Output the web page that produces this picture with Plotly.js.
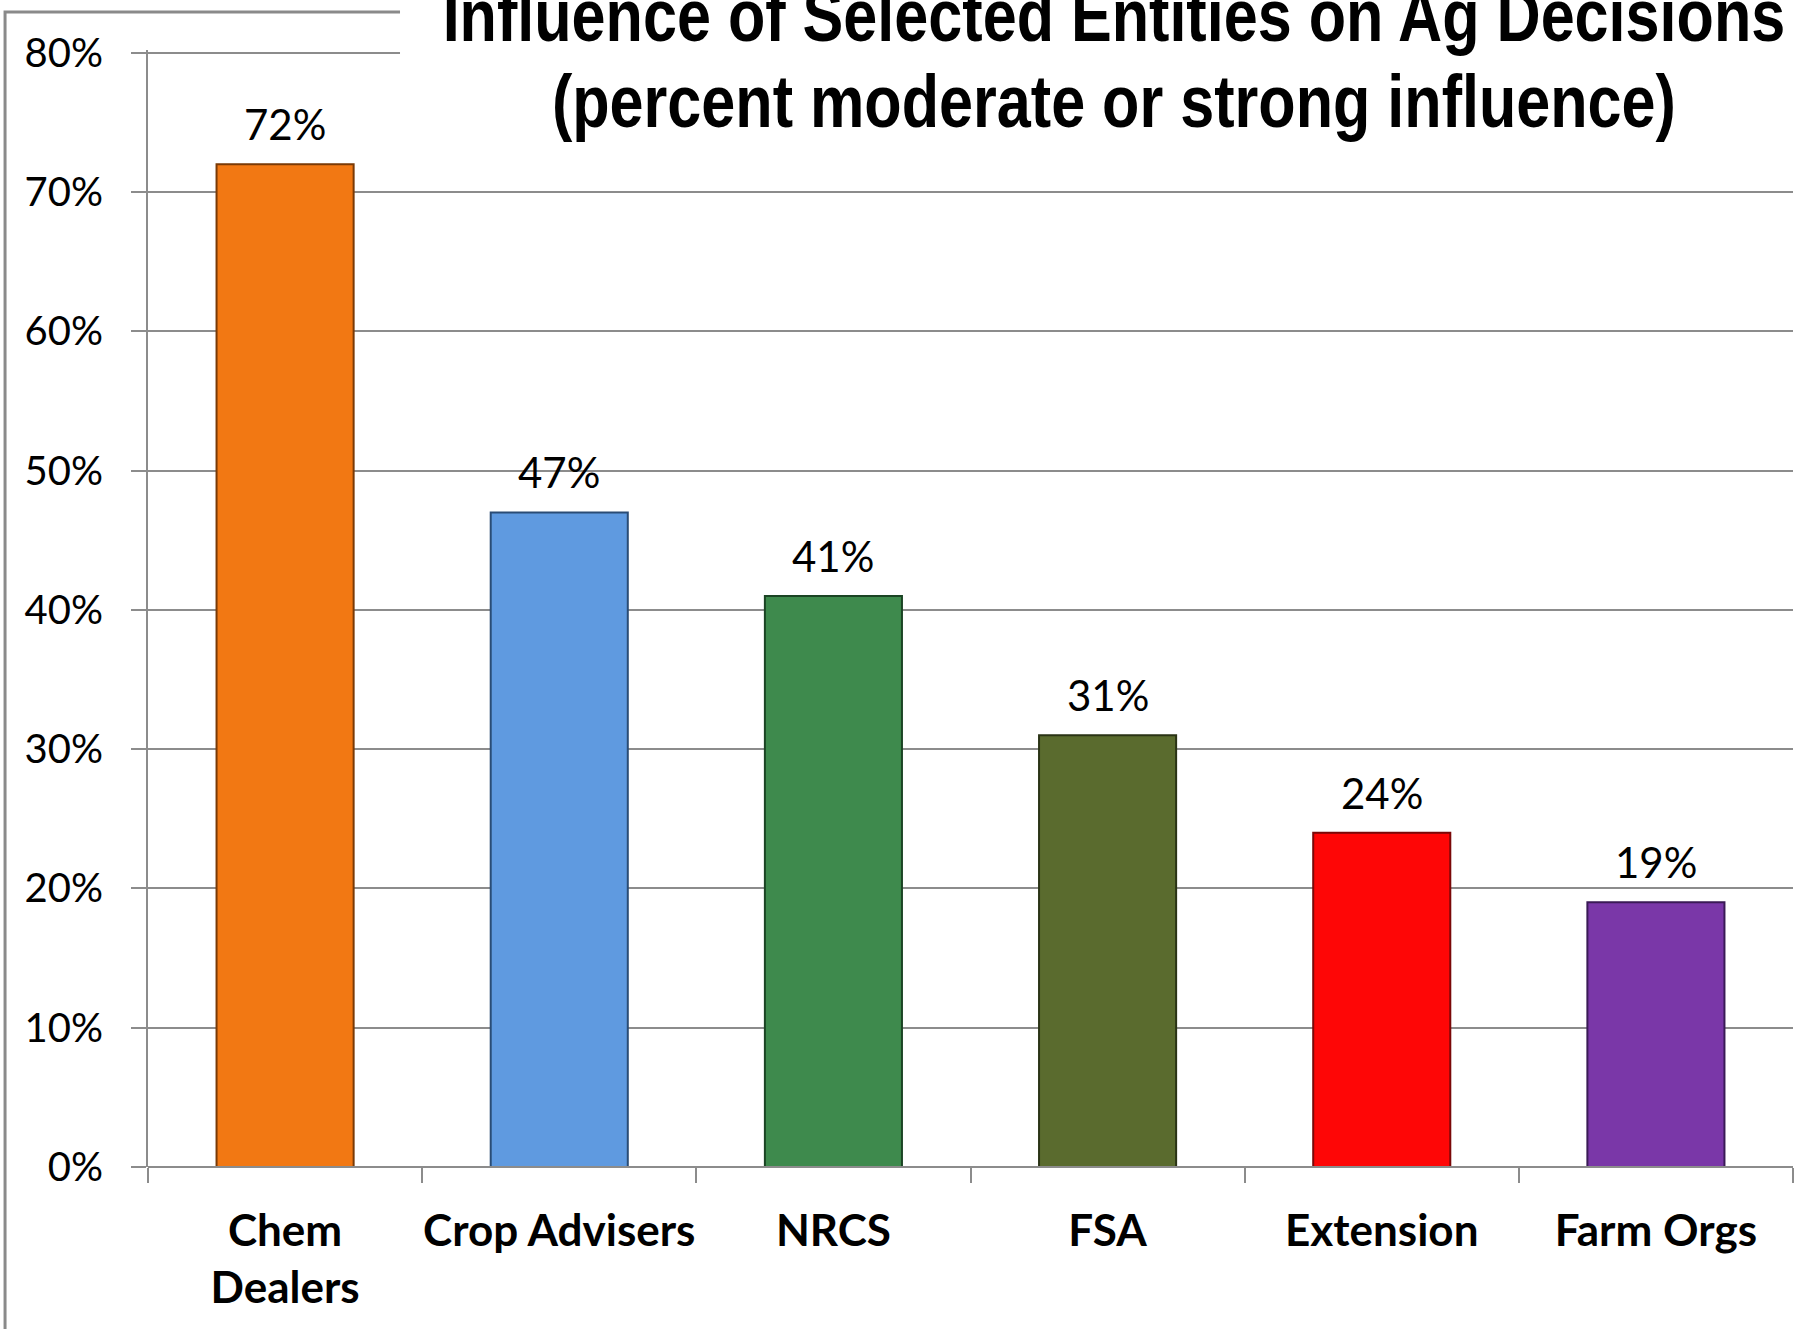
<!DOCTYPE html>
<html>
<head>
<meta charset="utf-8">
<script src="https://cdn.plot.ly/plotly-3.0.1.min.js"></script>
<style>
html,body{margin:0;padding:0;background:#fff;}
#chart{width:1816px;height:1329px;}
</style>
</head>
<body>
<div id="chart"></div>
<script>
// Data
const categories = ["Chem<br>Dealers", "Crop Advisers", "NRCS", "FSA", "Extension", "Farm Orgs"];
const values = [0.72, 0.47, 0.41, 0.31, 0.24, 0.19];
const valueLabels = ["72%", "47%", "41%", "31%", "24%", "19%"];
const barColors = ["#F27813", "#5F9AE0", "#3E8A4D", "#5A6B2E", "#FE0606", "#7A37A8"];
const barEdges = ["#7A3A06", "#2A4C75", "#1B4424", "#2A3315", "#7A0808", "#3A1A56"];
const yTickVals = [0, 0.1, 0.2, 0.3, 0.4, 0.5, 0.6, 0.7, 0.8];
const yTickText = ["0%", "10%", "20%", "30%", "40%", "50%", "60%", "70%", "80%"];
const titleText = "Influence of Selected Entities on Ag Decisions<br>(percent moderate or strong influence)";

const trace = {
  type: "bar",
  x: categories,
  y: values,
  marker: {color: barColors, line: {color: barEdges, width: 2}},
  hoverinfo: "skip"
};

const labelAnnotations = categories.map((c, i) => ({
  x: c, y: values[i], xref: "x", yref: "y",
  text: valueLabels[i], showarrow: false,
  yanchor: "bottom", yshift: 13,
  font: {family: "Lato, 'Open Sans', sans-serif", size: 42, color: "#000"}
}));

const layout = {
  width: 1816,
  height: 1329,
  margin: {l: 148, r: 23, t: 50, b: 162, pad: 0},
  paper_bgcolor: "#fff",
  plot_bgcolor: "#fff",
  showlegend: false,
  bargap: 0.5,
  title: {
    text: titleText,
    font: {family: "'Liberation Sans', Arial, sans-serif", size: 75, color: "#000", weight: "bold"},
    xref: "container", x: 0.6134, xanchor: "center",
    yref: "container", y: 0.9695, yanchor: "middle"
  },
  xaxis: {
    type: "category",
    showline: false,
    showgrid: false,
    ticks: "outside",
    tickson: "boundaries",
    ticklen: 15,
    tickcolor: "#8c8c8c",
    tickwidth: 2,
    tickangle: 0,
    ticklabelstandoff: 34,
    tickfont: {family: "Lato, 'Open Sans', sans-serif", size: 44, color: "#000", weight: "bold"},
    zeroline: false
  },
  yaxis: {
    range: [0, 0.802],
    tickvals: yTickVals,
    ticktext: yTickText,
    showgrid: true,
    gridcolor: "#8c8c8c",
    gridwidth: 2,
    showline: true,
    linecolor: "#8c8c8c",
    linewidth: 2,
    ticks: "outside",
    ticklen: 15,
    tickcolor: "#8c8c8c",
    tickwidth: 2,
    ticklabelstandoff: 20,
    tickfont: {family: "Lato, 'Open Sans', sans-serif", size: 40, color: "#000"},
    zeroline: false
  },
  annotations: labelAnnotations,
  shapes: [
    {type: "line", xref: "paper", yref: "paper", x0: 0, x1: 1, y0: 0, y1: 0, line: {color: "#8c8c8c", width: 2}, layer: "above"},
    {type: "rect", xref: "paper", yref: "paper", x0: -0.0869, x1: 1.05, y0: -0.3, y1: 1.034, line: {color: "#8a8a8a", width: 3}, fillcolor: "rgba(0,0,0,0)", layer: "above"},
    {type: "rect", xref: "paper", yref: "paper", x0: 0.1532, x1: 1.05, y0: 0.915, y1: 1.1, line: {width: 0}, fillcolor: "#fff", layer: "above"}
  ]
};

Plotly.newPlot("chart", [trace], layout, {displayModeBar: false, staticPlot: true}).then(function (gd) {
  // Narrow the title horizontally (Arial Narrow look) and tighten its line spacing
  const txt = gd.querySelector(".g-gtitle text");
  if (!txt) return;
  const lines = txt.querySelectorAll("tspan.line");
  if (lines.length > 1) lines[1].setAttribute("dy", "1.15em");
  const cx = parseFloat(txt.getAttribute("x"));
  const g = gd.querySelector(".g-gtitle");
  g.setAttribute("transform", "translate(" + cx + ",0) scale(0.815,1) translate(" + (-cx) + ",0)");
});
</script>
</body>
</html>
